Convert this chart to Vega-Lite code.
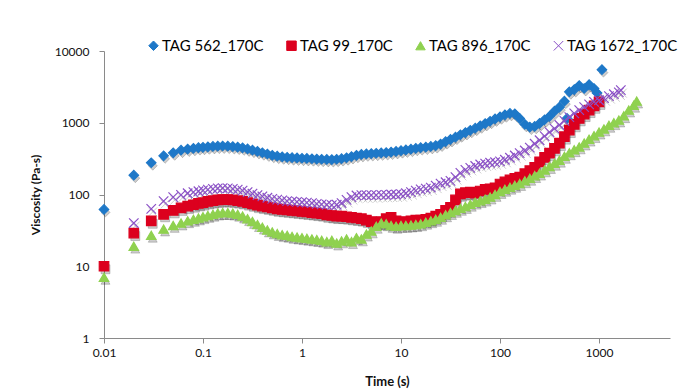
{
"$schema": "https://vega.github.io/schema/vega-lite/v6.json",
"width": 566, "height": 287,
"autosize": {"type": "none"},
"padding": {"left": 104, "top": 51, "right": 11, "bottom": 53},
"background": "white",
"config": {"view": {"stroke": null}, "font": "Lato"},
"datasets": {"pts": [
{"s":"TAG 562_170C","t":0.01,"v":62},{"s":"TAG 562_170C","t":0.02,"v":186},{"s":"TAG 562_170C","t":0.03,"v":277},{"s":"TAG 562_170C","t":0.04,"v":346},{"s":"TAG 562_170C","t":0.05,"v":381},{"s":"TAG 562_170C","t":0.06,"v":415},{"s":"TAG 562_170C","t":0.07,"v":430},{"s":"TAG 562_170C","t":0.08,"v":440},{"s":"TAG 562_170C","t":0.09,"v":450},
{"s":"TAG 562_170C","t":0.1,"v":455},{"s":"TAG 562_170C","t":0.112,"v":462},{"s":"TAG 562_170C","t":0.126,"v":468},{"s":"TAG 562_170C","t":0.141,"v":472},{"s":"TAG 562_170C","t":0.158,"v":474},{"s":"TAG 562_170C","t":0.178,"v":472},{"s":"TAG 562_170C","t":0.2,"v":466},{"s":"TAG 562_170C","t":0.224,"v":458},{"s":"TAG 562_170C","t":0.251,"v":447},{"s":"TAG 562_170C","t":0.282,"v":432},{"s":"TAG 562_170C","t":0.316,"v":415},{"s":"TAG 562_170C","t":0.355,"v":398},{"s":"TAG 562_170C","t":0.398,"v":382},{"s":"TAG 562_170C","t":0.447,"v":367},{"s":"TAG 562_170C","t":0.501,"v":352},{"s":"TAG 562_170C","t":0.562,"v":342},{"s":"TAG 562_170C","t":0.631,"v":335},{"s":"TAG 562_170C","t":0.708,"v":330},{"s":"TAG 562_170C","t":0.794,"v":326},{"s":"TAG 562_170C","t":0.891,"v":323},
{"s":"TAG 562_170C","t":1,"v":320},{"s":"TAG 562_170C","t":1.12,"v":318},{"s":"TAG 562_170C","t":1.26,"v":315},{"s":"TAG 562_170C","t":1.41,"v":312},{"s":"TAG 562_170C","t":1.58,"v":310},{"s":"TAG 562_170C","t":1.78,"v":308},{"s":"TAG 562_170C","t":2,"v":307},{"s":"TAG 562_170C","t":2.24,"v":310},{"s":"TAG 562_170C","t":2.51,"v":316},{"s":"TAG 562_170C","t":2.82,"v":325},{"s":"TAG 562_170C","t":3.16,"v":338},{"s":"TAG 562_170C","t":3.55,"v":352},{"s":"TAG 562_170C","t":3.98,"v":362},{"s":"TAG 562_170C","t":4.47,"v":368},{"s":"TAG 562_170C","t":5.01,"v":372},{"s":"TAG 562_170C","t":5.62,"v":376},{"s":"TAG 562_170C","t":6.31,"v":380},{"s":"TAG 562_170C","t":7.08,"v":384},{"s":"TAG 562_170C","t":7.94,"v":390},{"s":"TAG 562_170C","t":8.91,"v":398},
{"s":"TAG 562_170C","t":10,"v":408},{"s":"TAG 562_170C","t":11.2,"v":418},{"s":"TAG 562_170C","t":12.6,"v":428},{"s":"TAG 562_170C","t":14.1,"v":440},{"s":"TAG 562_170C","t":15.8,"v":450},{"s":"TAG 562_170C","t":17.8,"v":458},{"s":"TAG 562_170C","t":20,"v":468},{"s":"TAG 562_170C","t":22.4,"v":480},{"s":"TAG 562_170C","t":25.1,"v":505},{"s":"TAG 562_170C","t":28.2,"v":545},{"s":"TAG 562_170C","t":31.6,"v":585},{"s":"TAG 562_170C","t":35.5,"v":630},{"s":"TAG 562_170C","t":39.8,"v":680},{"s":"TAG 562_170C","t":44.7,"v":730},{"s":"TAG 562_170C","t":50.1,"v":785},{"s":"TAG 562_170C","t":56.2,"v":840},{"s":"TAG 562_170C","t":63.1,"v":905},{"s":"TAG 562_170C","t":70.8,"v":975},{"s":"TAG 562_170C","t":79.4,"v":1050},{"s":"TAG 562_170C","t":89.1,"v":1130},
{"s":"TAG 562_170C","t":100,"v":1210},{"s":"TAG 562_170C","t":112,"v":1290},{"s":"TAG 562_170C","t":126,"v":1350},{"s":"TAG 562_170C","t":141,"v":1330},{"s":"TAG 562_170C","t":158,"v":1150},{"s":"TAG 562_170C","t":178,"v":950},{"s":"TAG 562_170C","t":200,"v":870},{"s":"TAG 562_170C","t":224,"v":890},{"s":"TAG 562_170C","t":251,"v":980},{"s":"TAG 562_170C","t":282,"v":1100},{"s":"TAG 562_170C","t":316,"v":1230},{"s":"TAG 562_170C","t":355,"v":1450},{"s":"TAG 562_170C","t":398,"v":1650},{"s":"TAG 562_170C","t":447,"v":2000},{"s":"TAG 562_170C","t":475,"v":1150},{"s":"TAG 562_170C","t":501,"v":2700},{"s":"TAG 562_170C","t":562,"v":2900},{"s":"TAG 562_170C","t":631,"v":3300},{"s":"TAG 562_170C","t":708,"v":3000},{"s":"TAG 562_170C","t":794,"v":3400},{"s":"TAG 562_170C","t":891,"v":3000},{"s":"TAG 562_170C","t":955,"v":2600},{"s":"TAG 562_170C","t":1070,"v":5500},

{"s":"TAG 99_170C","t":0.01,"v":10},{"s":"TAG 99_170C","t":0.02,"v":29},{"s":"TAG 99_170C","t":0.03,"v":43},{"s":"TAG 99_170C","t":0.04,"v":53},{"s":"TAG 99_170C","t":0.05,"v":60},{"s":"TAG 99_170C","t":0.06,"v":65},{"s":"TAG 99_170C","t":0.07,"v":69},{"s":"TAG 99_170C","t":0.08,"v":72},{"s":"TAG 99_170C","t":0.09,"v":75},
{"s":"TAG 99_170C","t":0.1,"v":77},{"s":"TAG 99_170C","t":0.112,"v":80},{"s":"TAG 99_170C","t":0.126,"v":82},{"s":"TAG 99_170C","t":0.141,"v":84},{"s":"TAG 99_170C","t":0.158,"v":85},{"s":"TAG 99_170C","t":0.178,"v":85},{"s":"TAG 99_170C","t":0.2,"v":84},{"s":"TAG 99_170C","t":0.224,"v":82},{"s":"TAG 99_170C","t":0.251,"v":80},{"s":"TAG 99_170C","t":0.282,"v":77},{"s":"TAG 99_170C","t":0.316,"v":74},{"s":"TAG 99_170C","t":0.355,"v":71},{"s":"TAG 99_170C","t":0.398,"v":69},{"s":"TAG 99_170C","t":0.447,"v":67},{"s":"TAG 99_170C","t":0.501,"v":65},{"s":"TAG 99_170C","t":0.562,"v":63},{"s":"TAG 99_170C","t":0.631,"v":62},{"s":"TAG 99_170C","t":0.708,"v":61},{"s":"TAG 99_170C","t":0.794,"v":60},{"s":"TAG 99_170C","t":0.891,"v":59},
{"s":"TAG 99_170C","t":1,"v":58},{"s":"TAG 99_170C","t":1.12,"v":57},{"s":"TAG 99_170C","t":1.26,"v":56},{"s":"TAG 99_170C","t":1.41,"v":55},{"s":"TAG 99_170C","t":1.58,"v":54},{"s":"TAG 99_170C","t":1.78,"v":52},{"s":"TAG 99_170C","t":2,"v":51},{"s":"TAG 99_170C","t":2.24,"v":50},{"s":"TAG 99_170C","t":2.51,"v":50},{"s":"TAG 99_170C","t":2.82,"v":49},{"s":"TAG 99_170C","t":3.16,"v":48},{"s":"TAG 99_170C","t":3.55,"v":47},{"s":"TAG 99_170C","t":3.98,"v":46},{"s":"TAG 99_170C","t":4.47,"v":44},{"s":"TAG 99_170C","t":5.01,"v":42},{"s":"TAG 99_170C","t":5.62,"v":41},{"s":"TAG 99_170C","t":6.31,"v":42},{"s":"TAG 99_170C","t":7.08,"v":46},{"s":"TAG 99_170C","t":7.94,"v":48},{"s":"TAG 99_170C","t":8.91,"v":43},
{"s":"TAG 99_170C","t":10,"v":41},{"s":"TAG 99_170C","t":11.2,"v":42},{"s":"TAG 99_170C","t":12.6,"v":43},{"s":"TAG 99_170C","t":14.1,"v":44},{"s":"TAG 99_170C","t":15.8,"v":44},{"s":"TAG 99_170C","t":17.8,"v":45},{"s":"TAG 99_170C","t":20,"v":47},{"s":"TAG 99_170C","t":22.4,"v":50},{"s":"TAG 99_170C","t":25.1,"v":53},{"s":"TAG 99_170C","t":28.2,"v":60},{"s":"TAG 99_170C","t":31.6,"v":66},{"s":"TAG 99_170C","t":35.5,"v":84},{"s":"TAG 99_170C","t":39.8,"v":102},{"s":"TAG 99_170C","t":44.7,"v":106},{"s":"TAG 99_170C","t":50.1,"v":108},{"s":"TAG 99_170C","t":56.2,"v":104},{"s":"TAG 99_170C","t":63.1,"v":112},{"s":"TAG 99_170C","t":70.8,"v":118},{"s":"TAG 99_170C","t":79.4,"v":120},{"s":"TAG 99_170C","t":89.1,"v":124},
{"s":"TAG 99_170C","t":100,"v":140},{"s":"TAG 99_170C","t":112,"v":150},{"s":"TAG 99_170C","t":126,"v":160},{"s":"TAG 99_170C","t":141,"v":168},{"s":"TAG 99_170C","t":158,"v":175},{"s":"TAG 99_170C","t":178,"v":195},{"s":"TAG 99_170C","t":200,"v":215},{"s":"TAG 99_170C","t":224,"v":240},{"s":"TAG 99_170C","t":251,"v":285},{"s":"TAG 99_170C","t":282,"v":330},{"s":"TAG 99_170C","t":316,"v":377},{"s":"TAG 99_170C","t":355,"v":440},{"s":"TAG 99_170C","t":398,"v":520},{"s":"TAG 99_170C","t":447,"v":640},{"s":"TAG 99_170C","t":501,"v":790},{"s":"TAG 99_170C","t":562,"v":950},{"s":"TAG 99_170C","t":631,"v":1150},{"s":"TAG 99_170C","t":708,"v":1320},{"s":"TAG 99_170C","t":794,"v":1500},{"s":"TAG 99_170C","t":891,"v":1720},{"s":"TAG 99_170C","t":1000,"v":1950},

{"s":"TAG 896_170C","t":0.01,"v":7},{"s":"TAG 896_170C","t":0.02,"v":19},{"s":"TAG 896_170C","t":0.03,"v":27},{"s":"TAG 896_170C","t":0.04,"v":33},{"s":"TAG 896_170C","t":0.05,"v":37},{"s":"TAG 896_170C","t":0.06,"v":40},{"s":"TAG 896_170C","t":0.07,"v":43},{"s":"TAG 896_170C","t":0.08,"v":45},{"s":"TAG 896_170C","t":0.09,"v":47},
{"s":"TAG 896_170C","t":0.1,"v":49},{"s":"TAG 896_170C","t":0.112,"v":51},{"s":"TAG 896_170C","t":0.126,"v":53},{"s":"TAG 896_170C","t":0.141,"v":55},{"s":"TAG 896_170C","t":0.158,"v":56},{"s":"TAG 896_170C","t":0.178,"v":56},{"s":"TAG 896_170C","t":0.2,"v":55},{"s":"TAG 896_170C","t":0.224,"v":53},{"s":"TAG 896_170C","t":0.251,"v":50},{"s":"TAG 896_170C","t":0.282,"v":46},{"s":"TAG 896_170C","t":0.316,"v":42},{"s":"TAG 896_170C","t":0.355,"v":38},{"s":"TAG 896_170C","t":0.398,"v":35},{"s":"TAG 896_170C","t":0.447,"v":32},{"s":"TAG 896_170C","t":0.501,"v":30},{"s":"TAG 896_170C","t":0.562,"v":28.5},{"s":"TAG 896_170C","t":0.631,"v":27.5},{"s":"TAG 896_170C","t":0.708,"v":27},{"s":"TAG 896_170C","t":0.794,"v":26},{"s":"TAG 896_170C","t":0.891,"v":25.5},
{"s":"TAG 896_170C","t":1,"v":25},{"s":"TAG 896_170C","t":1.12,"v":24.5},{"s":"TAG 896_170C","t":1.26,"v":24},{"s":"TAG 896_170C","t":1.41,"v":23.5},{"s":"TAG 896_170C","t":1.58,"v":23},{"s":"TAG 896_170C","t":1.78,"v":22},{"s":"TAG 896_170C","t":2,"v":23},{"s":"TAG 896_170C","t":2.24,"v":21},{"s":"TAG 896_170C","t":2.51,"v":22.5},{"s":"TAG 896_170C","t":2.82,"v":24},{"s":"TAG 896_170C","t":3.16,"v":22},{"s":"TAG 896_170C","t":3.55,"v":25},{"s":"TAG 896_170C","t":3.98,"v":24},{"s":"TAG 896_170C","t":4.47,"v":28},{"s":"TAG 896_170C","t":5.01,"v":31},{"s":"TAG 896_170C","t":5.62,"v":36},{"s":"TAG 896_170C","t":6.31,"v":40},{"s":"TAG 896_170C","t":7.08,"v":39},{"s":"TAG 896_170C","t":7.94,"v":37},{"s":"TAG 896_170C","t":8.91,"v":36},
{"s":"TAG 896_170C","t":10,"v":37},{"s":"TAG 896_170C","t":11.2,"v":37},{"s":"TAG 896_170C","t":12.6,"v":37.5},{"s":"TAG 896_170C","t":14.1,"v":38},{"s":"TAG 896_170C","t":15.8,"v":39},{"s":"TAG 896_170C","t":17.8,"v":41},{"s":"TAG 896_170C","t":20,"v":43},{"s":"TAG 896_170C","t":22.4,"v":45},{"s":"TAG 896_170C","t":25.1,"v":48},{"s":"TAG 896_170C","t":28.2,"v":52},{"s":"TAG 896_170C","t":31.6,"v":56},{"s":"TAG 896_170C","t":35.5,"v":60},{"s":"TAG 896_170C","t":39.8,"v":64},{"s":"TAG 896_170C","t":44.7,"v":68},{"s":"TAG 896_170C","t":50.1,"v":73},{"s":"TAG 896_170C","t":56.2,"v":78},{"s":"TAG 896_170C","t":63.1,"v":82},{"s":"TAG 896_170C","t":70.8,"v":86},{"s":"TAG 896_170C","t":79.4,"v":92},{"s":"TAG 896_170C","t":89.1,"v":100},
{"s":"TAG 896_170C","t":100,"v":110},{"s":"TAG 896_170C","t":112,"v":118},{"s":"TAG 896_170C","t":126,"v":126},{"s":"TAG 896_170C","t":141,"v":134},{"s":"TAG 896_170C","t":158,"v":142},{"s":"TAG 896_170C","t":178,"v":155},{"s":"TAG 896_170C","t":200,"v":168},{"s":"TAG 896_170C","t":224,"v":183},{"s":"TAG 896_170C","t":251,"v":198},{"s":"TAG 896_170C","t":282,"v":220},{"s":"TAG 896_170C","t":316,"v":245},{"s":"TAG 896_170C","t":355,"v":272},{"s":"TAG 896_170C","t":398,"v":300},{"s":"TAG 896_170C","t":447,"v":340},{"s":"TAG 896_170C","t":501,"v":380},{"s":"TAG 896_170C","t":562,"v":420},{"s":"TAG 896_170C","t":631,"v":460},{"s":"TAG 896_170C","t":708,"v":520},{"s":"TAG 896_170C","t":794,"v":590},{"s":"TAG 896_170C","t":891,"v":660},
{"s":"TAG 896_170C","t":1000,"v":740},{"s":"TAG 896_170C","t":1122,"v":820},{"s":"TAG 896_170C","t":1259,"v":920},{"s":"TAG 896_170C","t":1413,"v":1000},{"s":"TAG 896_170C","t":1585,"v":1090},{"s":"TAG 896_170C","t":1778,"v":1250},{"s":"TAG 896_170C","t":1995,"v":1500},{"s":"TAG 896_170C","t":2239,"v":1750},{"s":"TAG 896_170C","t":2400,"v":2000},

{"s":"TAG 1672_170C","t":0.02,"v":40},{"s":"TAG 1672_170C","t":0.03,"v":63},{"s":"TAG 1672_170C","t":0.04,"v":81},{"s":"TAG 1672_170C","t":0.05,"v":92},{"s":"TAG 1672_170C","t":0.06,"v":99},{"s":"TAG 1672_170C","t":0.07,"v":104},{"s":"TAG 1672_170C","t":0.08,"v":108},{"s":"TAG 1672_170C","t":0.09,"v":111},
{"s":"TAG 1672_170C","t":0.1,"v":114},{"s":"TAG 1672_170C","t":0.112,"v":117},{"s":"TAG 1672_170C","t":0.126,"v":120},{"s":"TAG 1672_170C","t":0.141,"v":122},{"s":"TAG 1672_170C","t":0.158,"v":123},{"s":"TAG 1672_170C","t":0.178,"v":122},{"s":"TAG 1672_170C","t":0.2,"v":120},{"s":"TAG 1672_170C","t":0.224,"v":117},{"s":"TAG 1672_170C","t":0.251,"v":113},{"s":"TAG 1672_170C","t":0.282,"v":108},{"s":"TAG 1672_170C","t":0.316,"v":103},{"s":"TAG 1672_170C","t":0.355,"v":98},{"s":"TAG 1672_170C","t":0.398,"v":94},{"s":"TAG 1672_170C","t":0.447,"v":90},{"s":"TAG 1672_170C","t":0.501,"v":87},{"s":"TAG 1672_170C","t":0.562,"v":85},{"s":"TAG 1672_170C","t":0.631,"v":83},{"s":"TAG 1672_170C","t":0.708,"v":81},{"s":"TAG 1672_170C","t":0.794,"v":80},{"s":"TAG 1672_170C","t":0.891,"v":79},
{"s":"TAG 1672_170C","t":1,"v":78},{"s":"TAG 1672_170C","t":1.12,"v":77},{"s":"TAG 1672_170C","t":1.26,"v":76},{"s":"TAG 1672_170C","t":1.41,"v":74},{"s":"TAG 1672_170C","t":1.58,"v":73},{"s":"TAG 1672_170C","t":1.78,"v":72},{"s":"TAG 1672_170C","t":2,"v":71},{"s":"TAG 1672_170C","t":2.24,"v":72},{"s":"TAG 1672_170C","t":2.51,"v":76},{"s":"TAG 1672_170C","t":2.82,"v":84},{"s":"TAG 1672_170C","t":3.16,"v":92},{"s":"TAG 1672_170C","t":3.55,"v":97},{"s":"TAG 1672_170C","t":3.98,"v":98},{"s":"TAG 1672_170C","t":4.47,"v":98},{"s":"TAG 1672_170C","t":5.01,"v":98},{"s":"TAG 1672_170C","t":5.62,"v":98},{"s":"TAG 1672_170C","t":6.31,"v":99},{"s":"TAG 1672_170C","t":7.08,"v":99},{"s":"TAG 1672_170C","t":7.94,"v":100},{"s":"TAG 1672_170C","t":8.91,"v":100},
{"s":"TAG 1672_170C","t":10,"v":101},{"s":"TAG 1672_170C","t":11.2,"v":104},{"s":"TAG 1672_170C","t":12.6,"v":108},{"s":"TAG 1672_170C","t":14.1,"v":113},{"s":"TAG 1672_170C","t":15.8,"v":118},{"s":"TAG 1672_170C","t":17.8,"v":121},{"s":"TAG 1672_170C","t":20,"v":125},{"s":"TAG 1672_170C","t":22.4,"v":133},{"s":"TAG 1672_170C","t":25.1,"v":142},{"s":"TAG 1672_170C","t":28.2,"v":148},{"s":"TAG 1672_170C","t":31.6,"v":155},{"s":"TAG 1672_170C","t":35.5,"v":175},{"s":"TAG 1672_170C","t":39.8,"v":200},{"s":"TAG 1672_170C","t":44.7,"v":220},{"s":"TAG 1672_170C","t":50.1,"v":235},{"s":"TAG 1672_170C","t":56.2,"v":250},{"s":"TAG 1672_170C","t":63.1,"v":262},{"s":"TAG 1672_170C","t":70.8,"v":270},{"s":"TAG 1672_170C","t":79.4,"v":277},{"s":"TAG 1672_170C","t":89.1,"v":282},
{"s":"TAG 1672_170C","t":100,"v":290},{"s":"TAG 1672_170C","t":112,"v":305},{"s":"TAG 1672_170C","t":126,"v":325},{"s":"TAG 1672_170C","t":141,"v":350},{"s":"TAG 1672_170C","t":158,"v":377},{"s":"TAG 1672_170C","t":178,"v":410},{"s":"TAG 1672_170C","t":200,"v":450},{"s":"TAG 1672_170C","t":224,"v":510},{"s":"TAG 1672_170C","t":251,"v":570},{"s":"TAG 1672_170C","t":282,"v":650},{"s":"TAG 1672_170C","t":316,"v":740},{"s":"TAG 1672_170C","t":355,"v":830},{"s":"TAG 1672_170C","t":398,"v":930},{"s":"TAG 1672_170C","t":447,"v":1060},{"s":"TAG 1672_170C","t":501,"v":1200},{"s":"TAG 1672_170C","t":562,"v":1350},{"s":"TAG 1672_170C","t":631,"v":1500},{"s":"TAG 1672_170C","t":708,"v":1650},{"s":"TAG 1672_170C","t":794,"v":1800},{"s":"TAG 1672_170C","t":891,"v":1950},
{"s":"TAG 1672_170C","t":1000,"v":2060},{"s":"TAG 1672_170C","t":1122,"v":2200},{"s":"TAG 1672_170C","t":1259,"v":2350},{"s":"TAG 1672_170C","t":1413,"v":2500},{"s":"TAG 1672_170C","t":1585,"v":2650},{"s":"TAG 1672_170C","t":1660,"v":2850}
]},
"data": {"name": "pts"},
"encoding": {
  "x": {"field": "t", "type": "quantitative", "scale": {"type": "log", "domain": [0.01, 5210], "nice": false},
        "axis": {"values": [0.01, 0.1, 1, 10, 100, 1000], "format": "~g", "grid": false, "title": "Time (s)", "labelFlush": false,
                 "domainColor": "#8a8a8a", "tickColor": "#8a8a8a", "tickSize": 5, "labelFontSize": 12, "labelColor": "#111",
                 "labelPadding": 4, "titleFontSize": 13, "titleFontWeight": "bold", "titleColor": "#111", "titlePadding": 17}},
  "y": {"field": "v", "type": "quantitative", "scale": {"type": "log", "domain": [1, 10000], "nice": false},
        "axis": {"values": [1, 10, 100, 1000, 10000], "format": "d", "grid": false, "title": "Viscosity (Pa-s)", "labelFlush": false,
                 "domainColor": "#8a8a8a", "tickColor": "#8a8a8a", "tickSize": 5, "labelFontSize": 12, "labelColor": "#111",
                 "labelPadding": 10, "titleFontSize": 12, "titleFontWeight": "bold", "titleColor": "#111", "titlePadding": 12}},
  "shape": {"field": "s", "type": "nominal",
            "scale": {"domain": ["TAG 562_170C", "TAG 99_170C", "TAG 896_170C", "TAG 1672_170C"], "range": ["diamond", "square", "triangle-up", "M-1,-1L1,1M-1,1L1,-1"]}}
},
"layer": [
  {"mark": {"type": "point", "filled": true, "fill": "rgba(0,0,0,0.28)", "stroke": "rgba(0,0,0,0.28)", "strokeWidth": 1, "xOffset": 1.5, "yOffset": 3, "size": 80}},
  {"mark": {"type": "point", "filled": true, "opacity": 1, "strokeWidth": 1.2},
   "encoding": {
     "color": {"field": "s", "type": "nominal",
               "scale": {"domain": ["TAG 562_170C", "TAG 99_170C", "TAG 896_170C", "TAG 1672_170C"], "range": ["#1E78C8", "#DC001E", "#8FD14F", "#8A4FC6"]},
               "legend": {"orient": "none", "legendX": 42, "legendY": -13, "direction": "horizontal", "title": null,
                          "labelFontSize": 15, "labelFont": "Lato", "labelColor": "#000", "symbolSize": 30, "labelOffset": 1,
                          "columnPadding": 20, "symbolStrokeWidth": 1, "symbolOpacity": 1,
                          "encode": {"symbols": {"update": {"opacity": {"value": 1}, "fillOpacity": {"value": 1}, "strokeOpacity": {"value": 1}}}}}},
     "stroke": {"field": "s", "type": "nominal", "scale": {"domain": ["TAG 562_170C", "TAG 99_170C", "TAG 896_170C", "TAG 1672_170C"], "range": ["#1E78C8", "#DC001E", "#8FD14F", "#8A4FC6"]}},
     "size": {"field": "s", "type": "nominal", "legend": null,
              "scale": {"domain": ["TAG 562_170C", "TAG 99_170C", "TAG 896_170C", "TAG 1672_170C"], "range": [90, 90, 80, 70]}}
   }}
]
}
